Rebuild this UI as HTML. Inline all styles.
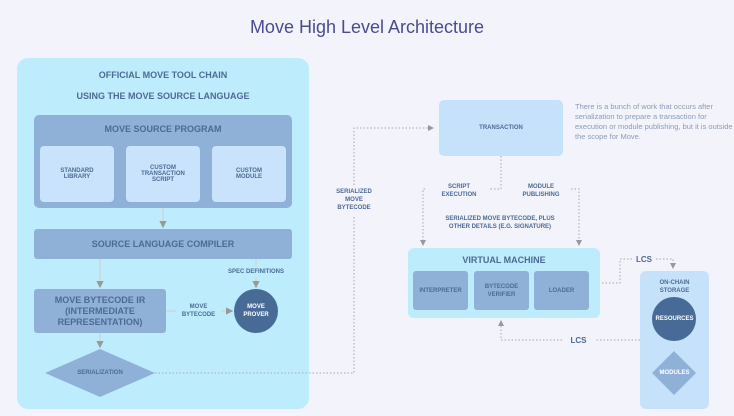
<!DOCTYPE html>
<html><head><style>
body{margin:0;width:734px;height:416px;background:#f2f3fb;font-family:"Liberation Sans",sans-serif;overflow:hidden;position:relative}
.a{position:absolute;box-sizing:border-box;display:flex;align-items:center;justify-content:center;text-align:center;color:#4d6a96;font-weight:bold}
</style></head><body>
<svg width="734" height="416" style="position:absolute;left:0;top:0">
<defs><marker id="m" markerWidth="6" markerHeight="6" refX="5" refY="3" orient="auto"><path d="M0,0L6,3L0,6z" fill="#999"/></marker></defs>
<rect x="17" y="58" width="292" height="351" rx="11" fill="#bdedfc"/>
<rect x="34" y="115" width="258" height="93" rx="5" fill="#8fb1d7"/>
<rect x="40" y="146" width="74" height="56" rx="4" fill="#c8e3fb"/>
<rect x="126" y="146" width="74" height="56" rx="4" fill="#c8e3fb"/>
<rect x="212" y="146" width="74" height="56" rx="4" fill="#c8e3fb"/>
<rect x="34" y="229" width="258" height="30" rx="3" fill="#8fb1d7"/>
<rect x="34" y="289" width="132" height="44" rx="3" fill="#8fb1d7"/>
<circle cx="256" cy="311" r="22" fill="#476b96"/>
<polygon points="45,373 100,349 155,373 100,397" fill="#8fb1d7"/>
<g stroke="#d6cfd0" stroke-width="1.2" fill="none">
<line x1="163" y1="208" x2="163" y2="227" marker-end="url(#m)"/>
<line x1="100" y1="259" x2="100" y2="287" marker-end="url(#m)"/>
<line x1="256" y1="259" x2="256" y2="266"/>
<line x1="256" y1="278" x2="256" y2="287" marker-end="url(#m)"/>
<line x1="166" y1="311" x2="176" y2="311"/>
<line x1="221" y1="311" x2="232" y2="311" marker-end="url(#m)"/>
<line x1="100" y1="333" x2="100" y2="347" marker-end="url(#m)"/>
</g>
<rect x="439" y="100" width="124" height="56" rx="5" fill="#c6e2fb"/>
<rect x="408" y="248" width="192" height="70" rx="6" fill="#bdedfc"/>
<rect x="413" y="271" width="55" height="39" rx="3" fill="#8fb1d7"/>
<rect x="474" y="271" width="55" height="39" rx="3" fill="#8fb1d7"/>
<rect x="534" y="271" width="55" height="39" rx="3" fill="#8fb1d7"/>
<rect x="640" y="271" width="69" height="138" rx="6" fill="#c6e2fb"/>
<circle cx="674" cy="319" r="22" fill="#476b96"/>
<polygon points="652,373 674,351 696,373 674,395" fill="#8fb1d7"/>
<g stroke="#aaa" stroke-width="1" stroke-dasharray="1.5,2" fill="none">
<polyline points="155,373 354,373 354,215"/>
<polyline points="354,185 354,128 433,128" marker-end="url(#m)"/>
<polyline points="501,156 501,189 490,189"/>
<polyline points="490,189 490,189"/>
<polyline points="425,189 423,189 423,245" marker-end="url(#m)"/>
<polyline points="571,189 579,189 579,245" marker-end="url(#m)"/>
<polyline points="602,283 620,283 620,259 632,259"/>
<polyline points="656,259 673,259 673,268" marker-end="url(#m)"/>
<polyline points="640,340 595,340"/>
<polyline points="562,340 501,340 501,321" marker-end="url(#m)"/>
</g>
</svg>
<div class="a" style="left:0;top:14;width:734px;top:14px;height:26px;font-size:18px;font-weight:normal;color:#4b4b8e">Move High Level Architecture</div>
<div class="a" style="left:17px;top:70px;width:292px;font-size:9px">OFFICIAL MOVE TOOL CHAIN</div>
<div class="a" style="left:17px;top:91px;width:292px;font-size:9px">USING THE MOVE SOURCE LANGUAGE</div>
<div class="a" style="left:34px;top:124px;width:258px;font-size:9px">MOVE SOURCE PROGRAM</div>
<div class="a" style="left:40px;top:146px;width:74px;height:56px;font-size:6px">STANDARD<br>LIBRARY</div>
<div class="a" style="left:126px;top:146px;width:74px;height:56px;font-size:6px">CUSTOM<br>TRANSACTION<br>SCRIPT</div>
<div class="a" style="left:212px;top:146px;width:74px;height:56px;font-size:6px">CUSTOM<br>MODULE</div>
<div class="a" style="left:34px;top:229px;width:258px;height:30px;font-size:9px">SOURCE LANGUAGE COMPILER</div>
<div class="a" style="left:206px;top:266px;width:100px;height:12px;font-size:6px">SPEC DEFINITIONS</div>
<div class="a" style="left:34px;top:289px;width:132px;height:44px;font-size:9px;line-height:11px">MOVE BYTECODE IR<br>(INTERMEDIATE<br>REPRESENTATION)</div>
<div class="a" style="left:176px;top:302px;width:45px;height:18px;font-size:6px;line-height:8px">MOVE<br>BYTECODE</div>
<div class="a" style="left:234px;top:300px;width:44px;height:22px;font-size:6px;color:#fff;line-height:8px">MOVE<br>PROVER</div>
<div class="a" style="left:45px;top:366px;width:110px;height:14px;font-size:6px">SERIALIZATION</div>
<div class="a" style="left:324px;top:186px;width:60px;height:28px;font-size:6px;line-height:8px">SERIALIZED<br>MOVE<br>BYTECODE</div>
<div class="a" style="left:439px;top:100px;width:124px;height:56px;font-size:6px">TRANSACTION</div>
<div style="position:absolute;left:575px;top:102px;width:160px;font-size:7.5px;line-height:10px;color:#8a9cb8">There is a bunch of work that occurs after serialization to prepare a transaction for execution or module publishing, but it is outside the scope for Move.</div>
<div class="a" style="left:430px;top:182px;width:58px;height:18px;font-size:6px;line-height:8px">SCRIPT<br>EXECUTION</div>
<div class="a" style="left:512px;top:182px;width:58px;height:18px;font-size:6px;line-height:8px">MODULE<br>PUBLISHING</div>
<div class="a" style="left:430px;top:214px;width:140px;height:18px;font-size:6px;line-height:8px">SERIALIZED MOVE BYTECODE, PLUS<br>OTHER DETAILS (E.G. SIGNATURE)</div>
<div class="a" style="left:408px;top:253px;width:192px;height:14px;font-size:9px">VIRTUAL MACHINE</div>
<div class="a" style="left:413px;top:271px;width:55px;height:39px;font-size:6px">INTERPRETER</div>
<div class="a" style="left:474px;top:271px;width:55px;height:39px;font-size:6px;line-height:8px">BYTECODE<br>VERIFIER</div>
<div class="a" style="left:534px;top:271px;width:55px;height:39px;font-size:6px">LOADER</div>
<div class="a" style="left:632px;top:252px;width:24px;height:14px;font-size:8px">LCS</div>
<div class="a" style="left:562px;top:333px;width:33px;height:14px;font-size:8px">LCS</div>
<div class="a" style="left:640px;top:278px;width:69px;height:18px;font-size:6px;line-height:8px">ON-CHAIN<br>STORAGE</div>
<div class="a" style="left:640px;top:312px;width:69px;height:14px;font-size:6px;color:#fff">RESOURCES</div>
<div class="a" style="left:640px;top:366px;width:69px;height:14px;font-size:6px;color:#fff">MODULES</div>
</body></html>
